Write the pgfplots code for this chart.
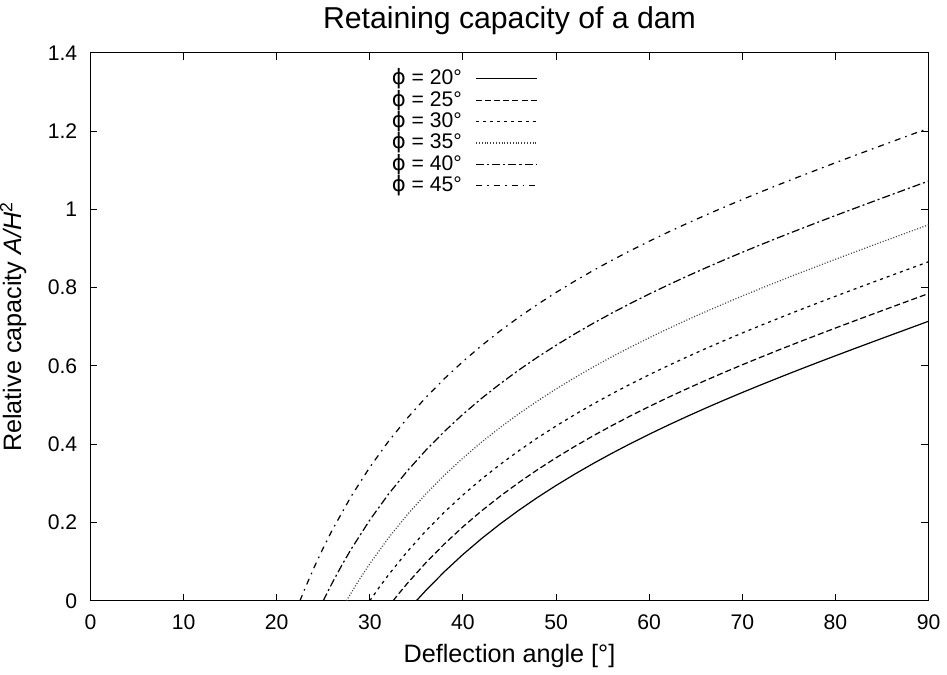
\documentclass[border=0pt]{standalone}
\usepackage{fontspec}
\setmainfont{Liberation Sans}
\newfontfamily\dejavu{DejaVu Sans}
\usepackage{pgfplots}
\pgfplotsset{compat=1.18}
\newcommand{\phisym}{{\dejavu ϕ}}

\begin{document}
\begin{tikzpicture}
\begin{axis}[
    scale only axis,
    width=416pt, height=272pt,
    xmin=0, xmax=90, ymin=0, ymax=1.4,
    xtick={0,10,...,90},
    ytick={0,0.2,0.4,0.6,0.8,1,1.2,1.4},
    yticklabels={0,0.2,0.4,0.6,0.8,1,1.2,1.4},
    tick align=inside, major tick length=3.5pt,
    tick style={black, line width=0.5pt},
    axis line style={line width=0.5pt},
    /pgf/number format/assume math mode=true,
    tick label style={font=\fontsize{10.5}{12}\selectfont},
    xticklabel style={yshift=-3.5pt},
    yticklabel style={xshift=-3pt},
    title={Retaining capacity of a dam},
    title style={at={(0.5,1)}, anchor=base, yshift=6pt, font=\fontsize{15}{18}\selectfont},
    xlabel={Deflection angle [°]},
    xlabel style={at={(axis description cs:0.5,-0.112)}, anchor=base, font=\fontsize{12.5}{15}\selectfont},
    ylabel={Relative capacity \textit{A/H}\textsuperscript{2}},
    ylabel style={at={(axis description cs:-0.076,0.5)}, anchor=south, inner sep=0pt, font=\fontsize{12.5}{15}\selectfont},
    legend plot pos=right,
    legend cell align=right,
    legend image code/.code={\draw[#1] (0pt,0pt) -- (30pt,0pt);},
    legend style={at={(0.35,0.98)}, anchor=north west, draw=none, fill=none,
        font=\fontsize{10.5}{12}\selectfont, row sep=0pt,
        /tikz/every odd column/.append style={column sep=6pt},
        nodes={inner sep=0.8pt, text height=7.4pt, text depth=1.6pt}},
    every axis plot/.append style={line width=0.6pt, black, no markers},
]
% phi = 20
\addplot[solid] coordinates {
(35,0) (36,0.0259) (38,0.0741) (40,0.1182) (42,0.1588) (44,0.1963) (46,0.2312)
(48,0.2639) (50,0.2945) (52,0.3234) (54,0.3508) (56,0.3768) (58,0.4016) (60,0.4254)
(62,0.4482) (64,0.4702) (66,0.4915) (68,0.5121) (70,0.5321) (72,0.5516) (74,0.5707)
(76,0.5894) (78,0.6078) (80,0.6259) (82,0.6438) (84,0.6615) (86,0.6791) (88,0.6966) (90,0.7141)};
\addlegendentry{\phisym\ = 20°}
% phi = 25
\addplot[dash pattern=on 3pt off 1.5pt] coordinates {
(32.5,0) (33,0.0149) (34,0.0436) (36,0.0967) (38,0.1449) (40,0.1890) (42,0.2296)
(44,0.2671) (46,0.3020) (48,0.3347) (50,0.3653) (52,0.3942) (54,0.4216) (56,0.4476)
(58,0.4724) (60,0.4962) (62,0.5190) (64,0.5410) (66,0.5623) (68,0.5829) (70,0.6029)
(72,0.6224) (74,0.6415) (76,0.6602) (78,0.6786) (80,0.6967) (82,0.7146) (84,0.7323)
(86,0.7499) (88,0.7674) (90,0.7849)};
\addlegendentry{\phisym\ = 25°}
% phi = 30
\addplot[dash pattern=on 1.5pt off 2pt] coordinates {
(30,0) (31,0.0339) (32,0.0659) (34,0.1248) (36,0.1779) (38,0.2261) (40,0.2702)
(42,0.3108) (44,0.3483) (46,0.3832) (48,0.4159) (50,0.4465) (52,0.4754) (54,0.5028)
(56,0.5288) (58,0.5536) (60,0.5774) (62,0.6002) (64,0.6222) (66,0.6435) (68,0.6641)
(70,0.6841) (72,0.7036) (74,0.7227) (76,0.7414) (78,0.7598) (80,0.7779) (82,0.7958)
(84,0.8135) (86,0.8311) (88,0.8486) (90,0.8661)};
\addlegendentry{\phisym\ = 30°}
% phi = 35
\addplot[dash pattern=on 0.5pt off 0.9pt, black!75] coordinates {
(27.5,0) (28,0.0202) (29,0.0585) (30,0.0945) (32,0.1604) (34,0.2192) (36,0.2723)
(38,0.3206) (40,0.3646) (42,0.4052) (44,0.4428) (46,0.4777) (48,0.5103) (50,0.5410)
(52,0.5699) (54,0.5973) (56,0.6233) (58,0.6481) (60,0.6718) (62,0.6947) (64,0.7167)
(66,0.7379) (68,0.7585) (70,0.7785) (72,0.7981) (74,0.8172) (76,0.8359) (78,0.8542)
(80,0.8724) (82,0.8903) (84,0.9080) (86,0.9256) (88,0.9431) (90,0.9605)};
\addlegendentry{\phisym\ = 35°}
% phi = 40
\addplot[dash pattern=on 4pt off 1.5pt on 1pt off 1.5pt] coordinates {
(25,0) (26,0.0471) (27,0.0910) (28,0.1319) (30,0.2062) (32,0.2721) (34,0.3310)
(36,0.3841) (38,0.4323) (40,0.4764) (42,0.5170) (44,0.5545) (46,0.5894) (48,0.6221)
(50,0.6527) (52,0.6816) (54,0.7090) (56,0.7350) (58,0.7598) (60,0.7836) (62,0.8064)
(64,0.8284) (66,0.8497) (68,0.8703) (70,0.8903) (72,0.9098) (74,0.9289) (76,0.9476)
(78,0.9660) (80,0.9841) (82,1.0020) (84,1.0197) (86,1.0373) (88,1.0548) (90,1.0723)};
\addlegendentry{\phisym\ = 40°}
% phi = 45
\addplot[dash pattern=on 3pt off 2.5pt on 0.8pt off 2.5pt] coordinates {
(22.5,0) (23,0.0292) (24,0.0841) (25,0.1349) (26,0.1820) (28,0.2668) (30,0.3411)
(32,0.4070) (34,0.4658) (36,0.5189) (38,0.5672) (40,0.6112) (42,0.6518) (44,0.6894)
(46,0.7243) (48,0.7569) (50,0.7876) (52,0.8165) (54,0.8439) (56,0.8699) (58,0.8947)
(60,0.9184) (62,0.9413) (64,0.9633) (66,0.9845) (68,1.0051) (70,1.0251) (72,1.0447)
(74,1.0638) (76,1.0825) (78,1.1008) (80,1.1190) (82,1.1369) (84,1.1546) (86,1.1722)
(88,1.1897) (90,1.2071)};
\addlegendentry{\phisym\ = 45°}
\end{axis}
\end{tikzpicture}
\end{document}
